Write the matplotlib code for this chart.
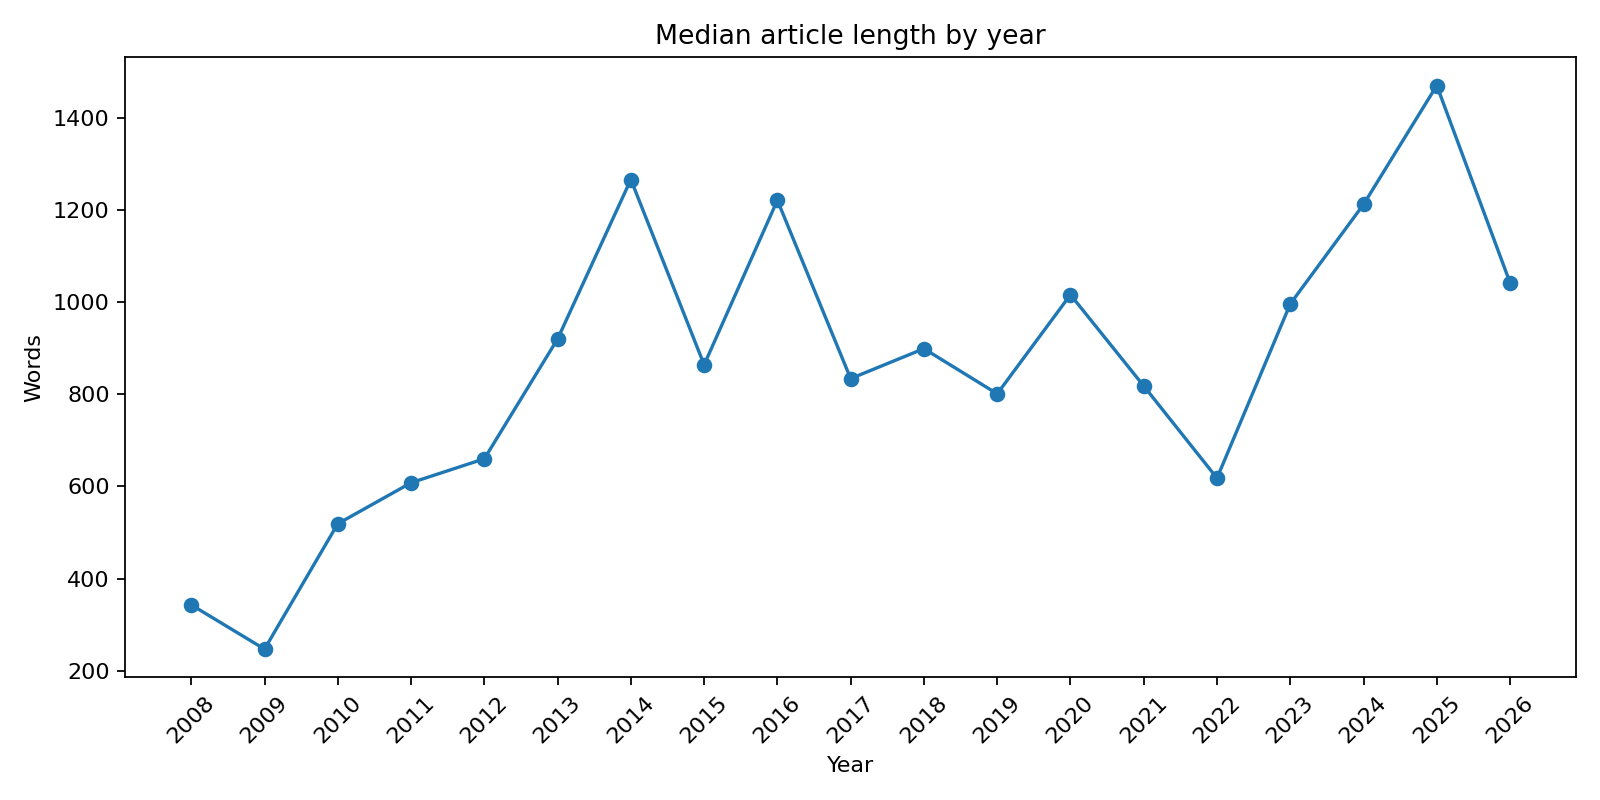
import matplotlib
matplotlib.use("Agg")
import matplotlib.pyplot as plt

years = list(range(2008, 2027))
words = [343, 247, 519, 608, 660, 920, 1266, 864, 1221, 834, 899, 801,
         1016, 818, 618, 996, 1212, 1470, 1042]


def main():
    fig, ax = plt.subplots(figsize=(10, 5), dpi=160)
    ax.plot(years, words, marker='o')
    ax.set_title('Median article length by year')
    ax.set_xlabel('Year')
    ax.set_ylabel('Words')
    ax.set_xticks(years)
    ax.set_xticklabels([str(y) for y in years], rotation=45)
    fig.tight_layout()
    fig.savefig('out.png')


if __name__ == "__main__":
    main()
